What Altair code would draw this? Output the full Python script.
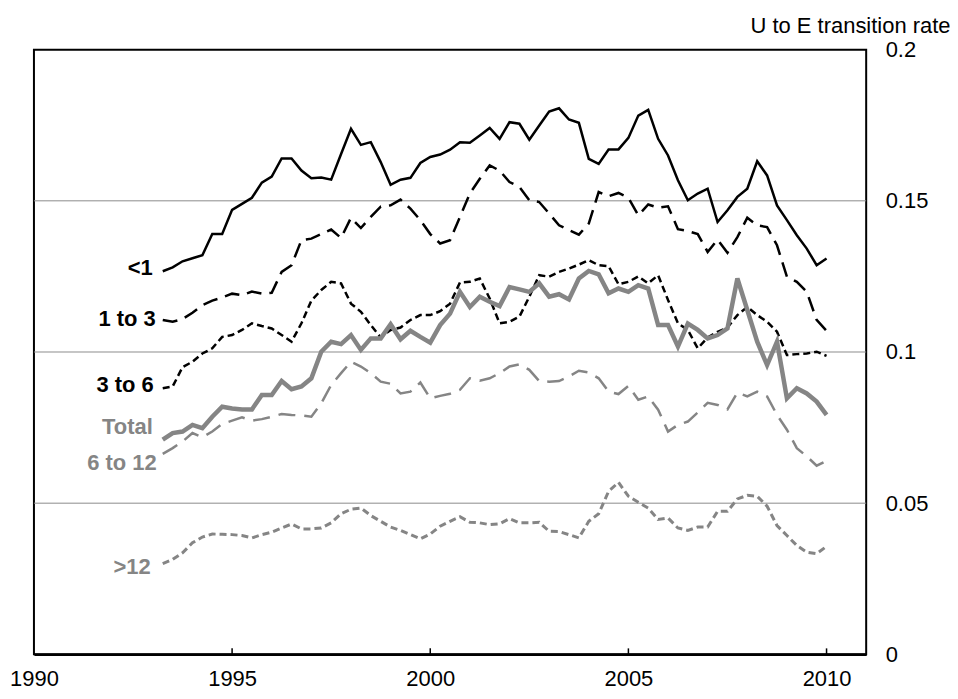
import altair as alt
import pandas as pd

# Quarterly observations, 1993Q2 .. 2010Q1 (68 quarters)
quarters = [1993.25 + 0.25 * i for i in range(68)]

lt1 = [0.1267, 0.128, 0.130, 0.131, 0.132, 0.139, 0.139, 0.147, 0.149, 0.151,
       0.156, 0.158, 0.164, 0.164, 0.160, 0.1575, 0.1577, 0.157, 0.1655, 0.1738,
       0.1685, 0.1694, 0.1628, 0.1553, 0.157, 0.1576, 0.1625, 0.1645, 0.1653, 0.1669,
       0.1694, 0.1692, 0.1716, 0.1741, 0.1705, 0.176, 0.1755, 0.1702, 0.1749, 0.1795,
       0.1806, 0.1769, 0.1758, 0.1639, 0.1622, 0.167, 0.167, 0.1708, 0.1782, 0.1801,
       0.1705, 0.165, 0.1568, 0.1502, 0.1524, 0.154, 0.143, 0.1469, 0.1513, 0.154,
       0.1631, 0.1584, 0.1485, 0.1436, 0.1386, 0.1342, 0.1287, 0.1309]

m1to3 = [0.1106, 0.110, 0.1109, 0.113, 0.1155, 0.117, 0.118, 0.1193, 0.1188, 0.120,
         0.1193, 0.1196, 0.1265, 0.1287, 0.137, 0.1375, 0.139, 0.1405, 0.1377, 0.1444,
         0.141, 0.1447, 0.1481, 0.1485, 0.1504, 0.1474, 0.1436, 0.139, 0.1359, 0.137,
         0.1447, 0.1524, 0.1573, 0.1617, 0.160, 0.1562, 0.1546, 0.1502, 0.1496, 0.1458,
         0.1419, 0.1403, 0.1388, 0.1425, 0.1529, 0.1515, 0.1526, 0.151, 0.1452, 0.1488,
         0.1477, 0.1482, 0.1406, 0.140, 0.139, 0.1331, 0.1372, 0.1328, 0.138, 0.1444,
         0.1419, 0.1413, 0.1353, 0.1249, 0.1232, 0.1199, 0.1106, 0.107]

m3to6 = [0.088, 0.0886, 0.095, 0.0968, 0.0995, 0.1012, 0.105, 0.1056, 0.1073, 0.1095,
         0.1086, 0.1078, 0.1056, 0.1034, 0.1095, 0.117, 0.1205, 0.1232, 0.1227, 0.116,
         0.1133, 0.1089, 0.1048, 0.1073, 0.1081, 0.1106, 0.1122, 0.1122, 0.1135, 0.116,
         0.123, 0.1232, 0.1243, 0.1177, 0.1095, 0.110, 0.1117, 0.1183, 0.1254, 0.1249,
         0.1265, 0.1276, 0.1289, 0.1304, 0.1287, 0.1284, 0.1224, 0.1232, 0.125, 0.1227,
         0.1254, 0.1172, 0.1095, 0.1073, 0.1012, 0.1048, 0.1067, 0.1081, 0.1122, 0.1149,
         0.1122, 0.110, 0.1067, 0.099, 0.0993, 0.0995, 0.1001, 0.0987]

total = [0.071, 0.0732, 0.0737, 0.0759, 0.0748, 0.0786, 0.0819, 0.0813, 0.081, 0.081,
         0.0858, 0.0858, 0.0904, 0.0877, 0.0886, 0.0913, 0.1001, 0.1034, 0.1026, 0.1056,
         0.1007, 0.1045, 0.1045, 0.1092, 0.1042, 0.107, 0.105, 0.1031, 0.1089, 0.1127,
         0.1199, 0.1149, 0.1183, 0.1166, 0.1152, 0.1215, 0.1207, 0.1199, 0.1227, 0.1183,
         0.1191, 0.1174, 0.1243, 0.1268, 0.1257, 0.1194, 0.121, 0.1199, 0.1221, 0.121,
         0.1089, 0.1089, 0.1018, 0.1094, 0.1073, 0.1045, 0.1056, 0.1078, 0.1243, 0.1139,
         0.1034, 0.0957, 0.1034, 0.0847, 0.088, 0.0863, 0.0836, 0.0792]

m6to12 = [0.0663, 0.0682, 0.0704, 0.0732, 0.0718, 0.0737, 0.0762, 0.0773, 0.0784, 0.0773,
          0.0778, 0.0786, 0.0795, 0.0792, 0.079, 0.0786, 0.083, 0.0891, 0.093, 0.0968,
          0.0952, 0.093, 0.0902, 0.0895, 0.0863, 0.0869, 0.0899, 0.0847, 0.0855, 0.0862,
          0.0875, 0.0913, 0.0905, 0.0913, 0.093, 0.0952, 0.0959, 0.0941, 0.0904, 0.0902,
          0.0904, 0.0919, 0.0938, 0.0932, 0.0913, 0.0869, 0.0861, 0.0888, 0.0842, 0.0853,
          0.0809, 0.0737, 0.0759, 0.077, 0.080, 0.0832, 0.0825, 0.081, 0.0866, 0.0853,
          0.0869, 0.0853, 0.0792, 0.0743, 0.0682, 0.0655, 0.0624, 0.064]

gt12 = [0.030, 0.0314, 0.0336, 0.0369, 0.0388, 0.0398, 0.0397, 0.0396, 0.0393, 0.0385,
        0.0396, 0.0404, 0.0418, 0.0431, 0.0415, 0.0415, 0.0418, 0.0435, 0.0465, 0.048,
        0.0484, 0.0459, 0.044, 0.0421, 0.041, 0.0396, 0.0382, 0.0398, 0.0424, 0.044,
        0.0455, 0.0437, 0.0435, 0.0429, 0.0432, 0.0449, 0.0435, 0.0435, 0.0437, 0.0407,
        0.0406, 0.0396, 0.0385, 0.044, 0.0465, 0.0539, 0.0569, 0.0523, 0.0503, 0.0484,
        0.0446, 0.0451, 0.0418, 0.041, 0.0421, 0.0421, 0.0473, 0.0473, 0.0514, 0.0526,
        0.0523, 0.049, 0.0426, 0.0393, 0.036, 0.0338, 0.0333, 0.0357]

series_names = ["<1", "1 to 3", "3 to 6", "Total", "6 to 12", ">12"]
series_values = [lt1, m1to3, m3to6, total, m6to12, gt12]
x_tick_years = [1990, 1995, 2000, 2005, 2010]
inner_tick_years = [1995, 2000, 2005, 2010]
y_ticks = [0, 0.05, 0.1, 0.15, 0.2]
grid_vals = [0.05, 0.1, 0.15]

BLACK = "#000000"
GRAY = "#858585"
FONT = "Liberation Sans"
FS = 22

styles = {
    "<1":      dict(color=BLACK, width=2.5, dash=None, dx=-10, dy=-3),
    "1 to 3":  dict(color=BLACK, width=2.5, dash=[15, 8], dx=-7, dy=-1),
    "3 to 6":  dict(color=BLACK, width=2.5, dash=[7, 4], dx=-9, dy=-3),
    "Total":   dict(color=GRAY, width=4.5, dash=None, dx=-10, dy=-13),
    "6 to 12": dict(color=GRAY, width=2.5, dash=[17, 9], dx=-6, dy=9),
    ">12":     dict(color=GRAY, width=3, dash=[7, 4], dx=-12, dy=3),
}

rows = []
for name, vals in zip(series_names, series_values):
    for t, v in zip(quarters, vals):
        rows.append({"t": t, "v": v, "series": name})
df = pd.DataFrame(rows)

W, H = 834, 606
xscale = alt.Scale(domain=[1990, 2011], nice=False, zero=False)
yscale = alt.Scale(domain=[0, 0.2], nice=False, zero=True)

xaxis = alt.Axis(
    values=x_tick_years, format="d", labelFontSize=FS, labelFont=FONT,
    labelColor=BLACK, ticks=False, grid=False, domain=True,
    domainColor=BLACK, domainWidth=2.5, labelPadding=14,
    labelFlush=False, labelOverlap=False, title=None)
yaxis = alt.Axis(
    orient="right", values=y_ticks, format="~g", labelFontSize=FS,
    labelFont=FONT, labelColor=BLACK, ticks=False, grid=False,
    domain=False, labelPadding=19, labelAlign="left",
    title="U to E transition rate", titleAngle=0, titleFont=FONT,
    titleFontSize=22, titleFontWeight="normal", titleColor=BLACK,
    titleAlign="right", titleBaseline="alphabetic",
    titleX=84, titleY=-17)

X = alt.X("t:Q", scale=xscale, axis=xaxis)
Y = alt.Y("v:Q", scale=yscale, axis=yaxis)

grid = alt.Chart(pd.DataFrame({"v": grid_vals})).mark_rule(
    color="#8c8c8c", strokeWidth=1
).encode(y=Y)

ticks = alt.Chart(pd.DataFrame({"t": inner_tick_years})).mark_rule(
    color=BLACK, strokeWidth=1.5
).encode(
    x=X,
    y=alt.value(H),
    y2=alt.value(H - 6),
)

layers = [grid, ticks]
for name in series_names:
    st = styles[name]
    kw = dict(color=st["color"], strokeWidth=st["width"], strokeJoin="miter", strokeCap="butt")
    if st["dash"]:
        kw["strokeDash"] = st["dash"]
    sub = df[df.series == name]
    line = alt.Chart(sub).mark_line(**kw).encode(x=X, y=Y, order="t:Q")
    layers.append(line)

    lab = alt.Chart(sub.head(1).assign(label=name)).mark_text(
        align="right", baseline="middle", font=FONT, fontSize=FS,
        fontWeight="bold", color=st["color"], dx=st["dx"], dy=st["dy"]
    ).encode(x=X, y=Y, text="label:N")
    layers.append(lab)

chart = alt.layer(*layers).properties(
    width=W, height=H,
    background="white",
    autosize=alt.AutoSizeParams(type="none"),
    padding={"left": 26, "top": 41, "right": 84, "bottom": 44},
).configure_view(stroke=BLACK, strokeWidth=2)

chart.save("out.html", embed_options={"renderer": "svg", "actions": False})
